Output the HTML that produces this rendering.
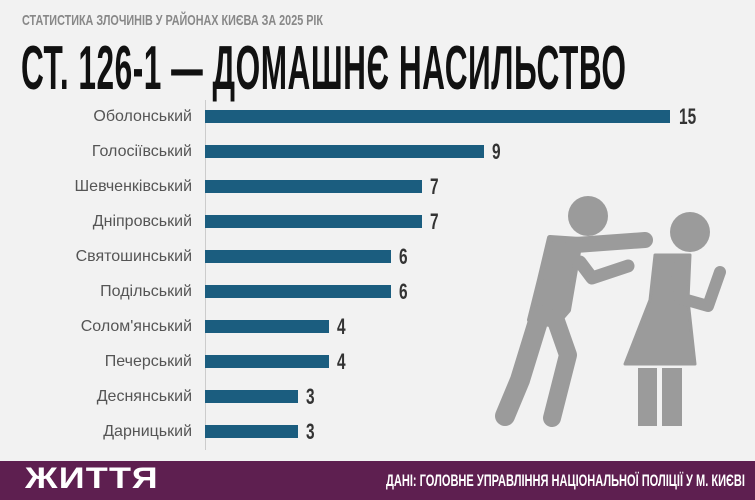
<!DOCTYPE html>
<html><head><meta charset="utf-8"><style>
body{margin:0;width:755px;height:500px;background:#f2f2f2;position:relative;overflow:hidden;font-family:"Liberation Sans",sans-serif}
.sub{position:absolute;left:22px;top:12px;font-size:15px;font-weight:bold;color:#888;transform:scaleX(.72);transform-origin:0 0;white-space:nowrap}
.title{position:absolute;left:21px;top:33px;font-size:62px;font-weight:bold;color:#111;transform:scaleX(.51);transform-origin:0 0;white-space:nowrap;letter-spacing:1px}
.lab{position:absolute;right:563px;font-size:16px;color:#555;white-space:nowrap;margin-top:2px}
.bar{position:absolute;left:205px;height:13px;background:#1b5d7f}
.val{position:absolute;font-size:22px;font-weight:bold;color:#333;transform:scaleX(.7);transform-origin:0 0}
.foot{position:absolute;left:0;top:461px;width:755px;height:39px;background:#5e1f50}
</style></head><body>
<div class="sub">СТАТИСТИКА ЗЛОЧИНІВ У РАЙОНАХ КИЄВА ЗА 2025 РІК</div>
<div class="title">СТ. 126-1 — ДОМАШНЄ НАСИЛЬСТВО</div>
<div style="position:absolute;left:205px;top:100px;width:1px;height:350px;background:#ccc"></div>
<div class="lab" style="top:106px">Оболонський</div><div class="bar" style="top:110px;width:465px"></div><div class="val" style="left:679px;top:104px">15</div>
<div class="lab" style="top:141px">Голосіївський</div><div class="bar" style="top:145px;width:279px"></div><div class="val" style="left:492px;top:139px">9</div>
<div class="lab" style="top:176px">Шевченківський</div><div class="bar" style="top:180px;width:217px"></div><div class="val" style="left:430px;top:174px">7</div>
<div class="lab" style="top:211px">Дніпровський</div><div class="bar" style="top:215px;width:217px"></div><div class="val" style="left:430px;top:209px">7</div>
<div class="lab" style="top:246px">Святошинський</div><div class="bar" style="top:250px;width:186px"></div><div class="val" style="left:399px;top:244px">6</div>
<div class="lab" style="top:281px">Подільський</div><div class="bar" style="top:285px;width:186px"></div><div class="val" style="left:399px;top:279px">6</div>
<div class="lab" style="top:316px">Солом'янський</div><div class="bar" style="top:320px;width:124px"></div><div class="val" style="left:337px;top:314px">4</div>
<div class="lab" style="top:351px">Печерський</div><div class="bar" style="top:355px;width:124px"></div><div class="val" style="left:337px;top:349px">4</div>
<div class="lab" style="top:386px">Деснянський</div><div class="bar" style="top:390px;width:93px"></div><div class="val" style="left:306px;top:384px">3</div>
<div class="lab" style="top:421px">Дарницький</div><div class="bar" style="top:425px;width:93px"></div><div class="val" style="left:306px;top:419px">3</div>
<svg style="position:absolute;left:0;top:0" width="755" height="500">
<g fill="#9b9b9b" stroke="#9b9b9b" stroke-linecap="round" stroke-linejoin="round">
<circle cx="588" cy="216" r="20" stroke="none"/>
<polyline points="562,246 645,240" stroke-width="16" fill="none"/>
<polyline points="580,262 592,278 628,266" stroke-width="13" fill="none"/>
<polygon points="550,238 580,240 568,310 555,325 530,320 540,280" stroke-width="6"/>
<polyline points="540,315 520,380 505,416" stroke-width="20" fill="none"/>
<polyline points="555,318 568,355 552,418" stroke-width="18" fill="none"/>
<circle cx="690" cy="232" r="20" stroke="none"/>
<polygon points="655,255 690,255 688,300 695,364 625,364 650,300" stroke-width="3"/>
<rect x="638" y="368" width="19" height="58" stroke="none"/>
<rect x="662" y="368" width="20" height="58" stroke="none"/>
<polyline points="676,268 680,298 708,306 720,272" stroke-width="12" fill="none"/>
</g>
</svg>
<div class="foot"></div>
<div style="position:absolute;left:25px;top:462px;font-size:30px;font-weight:900;color:#fff;transform:scaleX(1.2);transform-origin:0 0;letter-spacing:1px">ЖИТТЯ</div>
<div style="position:absolute;left:386px;top:471px;font-size:17px;font-weight:bold;color:#fff;transform:scaleX(.65);transform-origin:0 0;white-space:nowrap">ДАНІ: ГОЛОВНЕ УПРАВЛІННЯ НАЦІОНАЛЬНОЇ ПОЛІЦІЇ У М. КИЄВІ</div>
</body></html>
